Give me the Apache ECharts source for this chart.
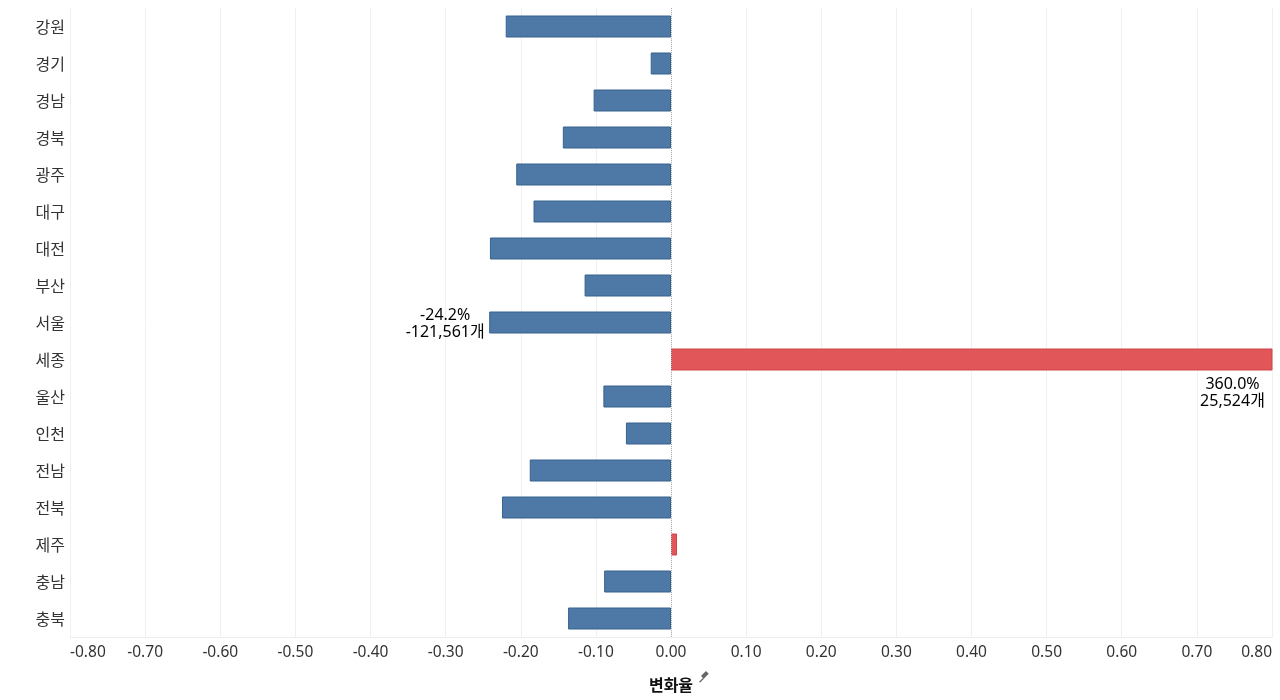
<!DOCTYPE html>
<html>
<head>
<meta charset="utf-8">
<script src="https://cdn.jsdelivr.net/npm/echarts@6/dist/echarts.min.js"></script>
<style>
html,body{margin:0;padding:0;background:#fff;}
#chart{width:1280px;height:700px;}
</style>
</head>
<body>
<div id="chart"></div>
<script>
const regions = ['강원','경기','경남','경북','광주','대구','대전','부산','서울','세종','울산','인천','전남','전북','제주','충남','충북'];
const changeRates = [-0.220, -0.027, -0.103, -0.144, -0.206, -0.183, -0.241, -0.115, -0.242, 3.600, -0.090, -0.060, -0.188, -0.225, 0.008, -0.089, -0.137];
const changeCounts = [null, null, null, null, null, null, null, null, -121561, 25524, null, null, null, null, null, null, null];
const xTickMin = -0.8, xTickMax = 0.8, xTickStep = 0.1;

const FONT = '"Noto Sans", "Noto Sans CJK KR", sans-serif';
const FONT_KR = '"Noto Sans CJK KR", "Noto Sans", sans-serif';
const BLUE = '#4e79a7', BLUE_B = '#36628f';
const RED = '#e15759', RED_B = '#cf4348';

const chart = echarts.init(document.getElementById('chart'));

const data = changeRates.map((v, i) => {
  const item = {
    value: v,
    itemStyle: { color: v >= 0 ? RED : BLUE, borderColor: v >= 0 ? RED_B : BLUE_B, borderWidth: 1 }
  };
  if (changeCounts[i] !== null) {
    const txt = (v * 100).toFixed(1) + '%\n' + changeCounts[i].toLocaleString('en-US') + '개';
    if (v > xTickMax) {
      item.label = { show: true, formatter: txt, position: ['100%', '100%'], align: 'center', verticalAlign: 'top', offset: [-40, 5] };
    } else {
      item.label = { show: true, formatter: txt, position: [0, '50%'], align: 'center', verticalAlign: 'middle', offset: [-44, 1] };
    }
  }
  return item;
});

chart.setOption({
  animation: false,
  grid: { left: 70, right: 8, top: 8, bottom: 63 },
  xAxis: {
    type: 'value',
    min: xTickMin, max: xTickMax, interval: xTickStep,
    name: '변화율',
    nameLocation: 'middle',
    nameGap: 40,
    nameTextStyle: { fontFamily: FONT_KR, fontSize: 16, color: '#111', fontWeight: 'bold' },
    axisLine: { show: true, lineStyle: { color: '#eeeeee' } },
    axisTick: { show: false },
    splitLine: { show: true, lineStyle: { color: '#f0f0f0', width: 1 } },
    axisLabel: {
      formatter: v => v.toFixed(2),
      fontFamily: FONT, fontSize: 15.5, color: '#333', margin: 8,
      alignMinLabel: 'left', alignMaxLabel: 'right'
    }
  },
  yAxis: {
    type: 'category',
    data: regions,
    inverse: true,
    axisLine: { show: false },
    axisTick: { show: false },
    splitLine: { show: false },
    axisLabel: { fontFamily: FONT_KR, fontSize: 16, color: '#333', margin: 5 }
  },
  series: [{
    type: 'bar',
    data: data,
    barWidth: 22,
    clip: true,
    label: { show: false, fontFamily: FONT, fontSize: 16, color: '#000', lineHeight: 17 },
    markLine: {
      silent: true,
      symbol: ['none', 'none'],
      label: { show: false },
      lineStyle: { color: '#b0b0b0', type: 'dotted', width: 1 },
      data: [{ xAxis: 0 }]
    }
  }],
  graphic: [{
    type: 'group',
    left: 697, top: 671,
    children: [
      { type: 'rect', shape: { x: 3, y: 0, width: 4, height: 7 }, rotation: -Math.PI / 4, originX: 5, originY: 4, style: { fill: '#666' } },
      { type: 'line', shape: { x1: 0, y1: 11, x2: 4, y2: 7 }, style: { stroke: '#666', lineWidth: 1.2 } }
    ]
  }]
});
</script>
</body>
</html>
